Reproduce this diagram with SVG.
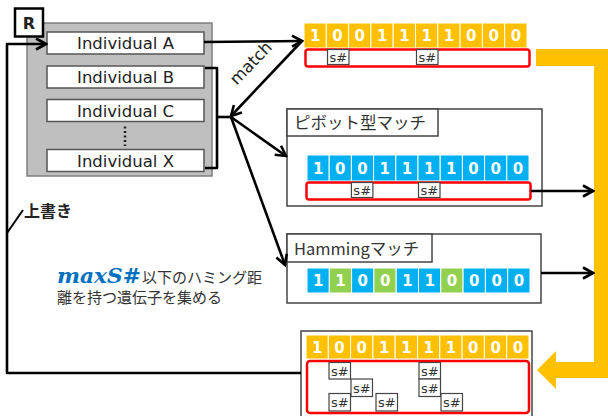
<svg xmlns="http://www.w3.org/2000/svg" width="608" height="416" viewBox="0 0 608 416">
  <style>
    .lbl { font-family: "DejaVu Sans", "Noto Sans CJK JP", sans-serif; fill: #222; }
    .jp { font-family: "Noto Sans CJK JP", "DejaVu Sans", sans-serif; fill: #333; }
    .ind { fill: #fff; stroke: #555; stroke-width: 1.5; }
    .cellY { fill: #FFC000; stroke: #fff; stroke-width: 1; }
    .cellB { fill: #00B0F0; stroke: #fff; stroke-width: 1; }
    .cellG { fill: #92D050; stroke: #fff; stroke-width: 1; }
    .bit { font-family: "DejaVu Sans", sans-serif; font-weight: bold; font-size: 15px; fill: #fff; text-anchor: middle; }
    .red { fill: #fff; stroke: #FF0000; stroke-width: 2.5; }
    .sbox { fill: #fff; stroke: #444; stroke-width: 1.2; }
    .s { font-family: "DejaVu Sans", sans-serif; font-size: 13px; fill: #333; text-anchor: middle; }
    .frame { fill: #fff; stroke: #444; stroke-width: 1.5; }
    .wire { fill: none; stroke: #000; stroke-width: 2.6; stroke-linejoin: round; }
  </style>
  <defs>
    <marker id="arr" markerUnits="userSpaceOnUse" markerWidth="14" markerHeight="14" viewBox="0 0 14 14" refX="12" refY="7" orient="auto">
      <path d="M2,1.5 L12,7 L2,12.5" fill="none" stroke="#000" stroke-width="2.6" stroke-linejoin="miter"/>
    </marker>
  </defs>

  <!-- population R -->
  <g id="population">
    <rect x="27" y="23" width="185" height="153" fill="#BFBFBF" stroke="#7F7F7F" stroke-width="1.5"/>
    <rect class="ind" x="47" y="32" width="157" height="22"/>
    <text class="lbl" x="125.5" y="49" font-size="16.5" text-anchor="middle">Individual A</text>
    <rect class="ind" x="47" y="66" width="157" height="22"/>
    <text class="lbl" x="125.5" y="83" font-size="16.5" text-anchor="middle">Individual B</text>
    <rect class="ind" x="47" y="99.5" width="157" height="22"/>
    <text class="lbl" x="125.5" y="116.5" font-size="16.5" text-anchor="middle">Individual C</text>
    <line x1="125" y1="126.5" x2="125" y2="146" stroke="#222" stroke-width="2.5" stroke-dasharray="2 2.5"/>
    <rect class="ind" x="47" y="149.5" width="157" height="22"/>
    <text class="lbl" x="125.5" y="166.5" font-size="16.5" text-anchor="middle">Individual X</text>
  </g>
  <g id="r-label">
    <rect x="15" y="8.5" width="28" height="28" fill="#fff" stroke="#000" stroke-width="2.5"/>
    <text class="lbl" x="29" y="28.5" font-size="16" font-weight="bold" text-anchor="middle" fill="#000">R</text>
  </g>

  <!-- target gene (yellow, top) -->
  <g id="target">
    <rect class="cellY" x="304" y="23" width="22.3" height="25"/>
    <rect class="cellY" x="326.3" y="23" width="22.3" height="25"/>
    <rect class="cellY" x="348.6" y="23" width="22.3" height="25"/>
    <rect class="cellY" x="370.9" y="23" width="22.3" height="25"/>
    <rect class="cellY" x="393.2" y="23" width="22.3" height="25"/>
    <rect class="cellY" x="415.5" y="23" width="22.3" height="25"/>
    <rect class="cellY" x="437.8" y="23" width="22.3" height="25"/>
    <rect class="cellY" x="460.1" y="23" width="22.3" height="25"/>
    <rect class="cellY" x="482.4" y="23" width="22.3" height="25"/>
    <rect class="cellY" x="504.7" y="23" width="22.3" height="25"/>
    <text class="bit" x="315.2" y="41">1</text>
    <text class="bit" x="337.5" y="41">0</text>
    <text class="bit" x="359.8" y="41">0</text>
    <text class="bit" x="382.1" y="41">1</text>
    <text class="bit" x="404.4" y="41">1</text>
    <text class="bit" x="426.7" y="41">1</text>
    <text class="bit" x="449" y="41">1</text>
    <text class="bit" x="471.3" y="41">0</text>
    <text class="bit" x="493.6" y="41">0</text>
    <text class="bit" x="515.9" y="41">0</text>
    <rect class="red" x="305.5" y="49.5" width="224" height="17" rx="2.5"/>
    <rect class="sbox" x="327.5" y="49.5" width="21.5" height="15"/>
    <text class="s" x="338.3" y="62">s#</text>
    <rect class="sbox" x="416.5" y="49.5" width="21.5" height="15"/>
    <text class="s" x="427.3" y="62">s#</text>
  </g>

  <!-- pivot match -->
  <g id="pivot">
    <rect class="frame" x="287" y="109" width="255" height="97"/>
    <rect class="frame" x="287" y="109" width="151" height="27"/>
    <text class="jp" x="294" y="129" font-size="16.5">ピボット型マッチ</text>
    <rect class="cellB" x="307" y="155" width="22.2" height="26"/>
    <rect class="cellB" x="329.2" y="155" width="22.2" height="26"/>
    <rect class="cellB" x="351.4" y="155" width="22.2" height="26"/>
    <rect class="cellB" x="373.6" y="155" width="22.2" height="26"/>
    <rect class="cellB" x="395.8" y="155" width="22.2" height="26"/>
    <rect class="cellB" x="418" y="155" width="22.2" height="26"/>
    <rect class="cellB" x="440.2" y="155" width="22.2" height="26"/>
    <rect class="cellB" x="462.4" y="155" width="22.2" height="26"/>
    <rect class="cellB" x="484.6" y="155" width="22.2" height="26"/>
    <rect class="cellB" x="506.8" y="155" width="22.2" height="26"/>
    <text class="bit" x="318.1" y="173.5">1</text>
    <text class="bit" x="340.3" y="173.5">0</text>
    <text class="bit" x="362.5" y="173.5">0</text>
    <text class="bit" x="384.7" y="173.5">1</text>
    <text class="bit" x="406.9" y="173.5">1</text>
    <text class="bit" x="429.1" y="173.5">1</text>
    <text class="bit" x="451.3" y="173.5">1</text>
    <text class="bit" x="473.5" y="173.5">0</text>
    <text class="bit" x="495.7" y="173.5">0</text>
    <text class="bit" x="517.9" y="173.5">0</text>
    <rect class="red" x="306.5" y="182.5" width="224" height="17" rx="2.5"/>
    <rect class="sbox" x="351.4" y="182.5" width="21.5" height="15"/>
    <text class="s" x="362.2" y="195">s#</text>
    <rect class="sbox" x="418.5" y="182.5" width="21.5" height="15"/>
    <text class="s" x="429.3" y="195">s#</text>
  </g>

  <!-- hamming match -->
  <g id="hamming">
    <rect class="frame" x="287" y="234" width="254" height="69"/>
    <rect class="frame" x="287" y="234" width="145" height="28"/>
    <text class="jp" x="294" y="255" font-size="16.5">Hammingマッチ</text>
    <rect class="cellB" x="307" y="268" width="22.3" height="25"/>
    <rect class="cellG" x="329.3" y="268" width="22.3" height="25"/>
    <rect class="cellB" x="351.6" y="268" width="22.3" height="25"/>
    <rect class="cellG" x="373.9" y="268" width="22.3" height="25"/>
    <rect class="cellB" x="396.2" y="268" width="22.3" height="25"/>
    <rect class="cellB" x="418.5" y="268" width="22.3" height="25"/>
    <rect class="cellG" x="440.8" y="268" width="22.3" height="25"/>
    <rect class="cellB" x="463.1" y="268" width="22.3" height="25"/>
    <rect class="cellB" x="485.4" y="268" width="22.3" height="25"/>
    <rect class="cellB" x="507.7" y="268" width="22.3" height="25"/>
    <text class="bit" x="318.2" y="286">1</text>
    <text class="bit" x="340.5" y="286">1</text>
    <text class="bit" x="362.8" y="286">0</text>
    <text class="bit" x="385.1" y="286">0</text>
    <text class="bit" x="407.4" y="286">1</text>
    <text class="bit" x="429.7" y="286">1</text>
    <text class="bit" x="452" y="286">0</text>
    <text class="bit" x="474.3" y="286">0</text>
    <text class="bit" x="496.6" y="286">0</text>
    <text class="bit" x="518.9" y="286">0</text>
  </g>

  <!-- collected result -->
  <g id="result">
    <rect class="frame" x="301" y="331" width="231" height="95"/>
    <rect class="cellY" x="306" y="335" width="22.3" height="24"/>
    <rect class="cellY" x="328.3" y="335" width="22.3" height="24"/>
    <rect class="cellY" x="350.6" y="335" width="22.3" height="24"/>
    <rect class="cellY" x="372.9" y="335" width="22.3" height="24"/>
    <rect class="cellY" x="395.2" y="335" width="22.3" height="24"/>
    <rect class="cellY" x="417.5" y="335" width="22.3" height="24"/>
    <rect class="cellY" x="439.8" y="335" width="22.3" height="24"/>
    <rect class="cellY" x="462.1" y="335" width="22.3" height="24"/>
    <rect class="cellY" x="484.4" y="335" width="22.3" height="24"/>
    <rect class="cellY" x="506.7" y="335" width="22.3" height="24"/>
    <text class="bit" x="317.2" y="352.5">1</text>
    <text class="bit" x="339.5" y="352.5">0</text>
    <text class="bit" x="361.8" y="352.5">0</text>
    <text class="bit" x="384.1" y="352.5">1</text>
    <text class="bit" x="406.4" y="352.5">1</text>
    <text class="bit" x="428.7" y="352.5">1</text>
    <text class="bit" x="451" y="352.5">1</text>
    <text class="bit" x="473.3" y="352.5">0</text>
    <text class="bit" x="495.6" y="352.5">0</text>
    <text class="bit" x="517.9" y="352.5">0</text>
    <rect class="red" x="307" y="361" width="222" height="52" rx="3"/>
    <rect class="sbox" x="329" y="362.5" width="21.5" height="16.5"/>
    <text class="s" x="339.8" y="375.5">s#</text>
    <rect class="sbox" x="351" y="379" width="21.5" height="17.5"/>
    <text class="s" x="361.8" y="392.5">s#</text>
    <rect class="sbox" x="329" y="393.5" width="21.5" height="17.5"/>
    <text class="s" x="339.8" y="407">s#</text>
    <rect class="sbox" x="376" y="393.5" width="21.5" height="17.5"/>
    <text class="s" x="386.8" y="407">s#</text>
    <rect class="sbox" x="419" y="362.5" width="21.5" height="16.5"/>
    <text class="s" x="429.8" y="375.5">s#</text>
    <rect class="sbox" x="419" y="379" width="21.5" height="17.5"/>
    <text class="s" x="429.8" y="392.5">s#</text>
    <rect class="sbox" x="441" y="393.5" width="21.5" height="17.5"/>
    <text class="s" x="451.8" y="407">s#</text>
  </g>

  <!-- big elbow arrow -->
  <g id="collect-arrow">
    <path d="M536,49 H608 V378 H556 V389 L537,370 L556,351 V362 H594 V66 H536 Z" fill="#FFC000"/>
  </g>

  <!-- notes -->
  <g id="notes">
    <text class="lbl" x="24" y="217" font-size="16" font-weight="bold" fill="#000" font-family="Noto Sans CJK JP, sans-serif">上書き</text>
    <text x="57" y="282.5" font-family="DejaVu Serif, serif" font-weight="bold" font-style="italic" font-size="20" fill="#0070C0" textLength="84" lengthAdjust="spacingAndGlyphs">maxS#</text>
    <text class="jp" x="142" y="283" font-size="15" fill="#404040">以下のハミング距</text>
    <text class="jp" x="57" y="303" font-size="15" fill="#404040">離を持つ遺伝子を集める</text>
  </g>

  <!-- connectors -->
  <g id="connectors">
    <line class="wire" x1="204" y1="42" x2="302" y2="41" marker-end="url(#arr)"/>
    <line class="wire" x1="302" y1="41" x2="231" y2="116" marker-end="url(#arr)"/>
    <text class="lbl" x="0" y="0" font-size="16.5" text-anchor="middle" transform="translate(255,67) rotate(-46)">match</text>
    <path class="wire" d="M205,68 H217 V168 H205"/>
    <line class="wire" x1="217" y1="117" x2="231" y2="117"/>
    <line class="wire" x1="231" y1="117" x2="286" y2="156" marker-end="url(#arr)"/>
    <line class="wire" x1="231" y1="117" x2="285" y2="265" marker-end="url(#arr)"/>
    <line class="wire" x1="531" y1="191" x2="593" y2="191" marker-end="url(#arr)"/>
    <line class="wire" x1="541" y1="273" x2="593" y2="273" marker-end="url(#arr)"/>
    <path class="wire" d="M301,373 H7 V44 H46" marker-end="url(#arr)"/>
    <line x1="7" y1="233" x2="23" y2="210" stroke="#000" stroke-width="2"/>
  </g>
</svg>
